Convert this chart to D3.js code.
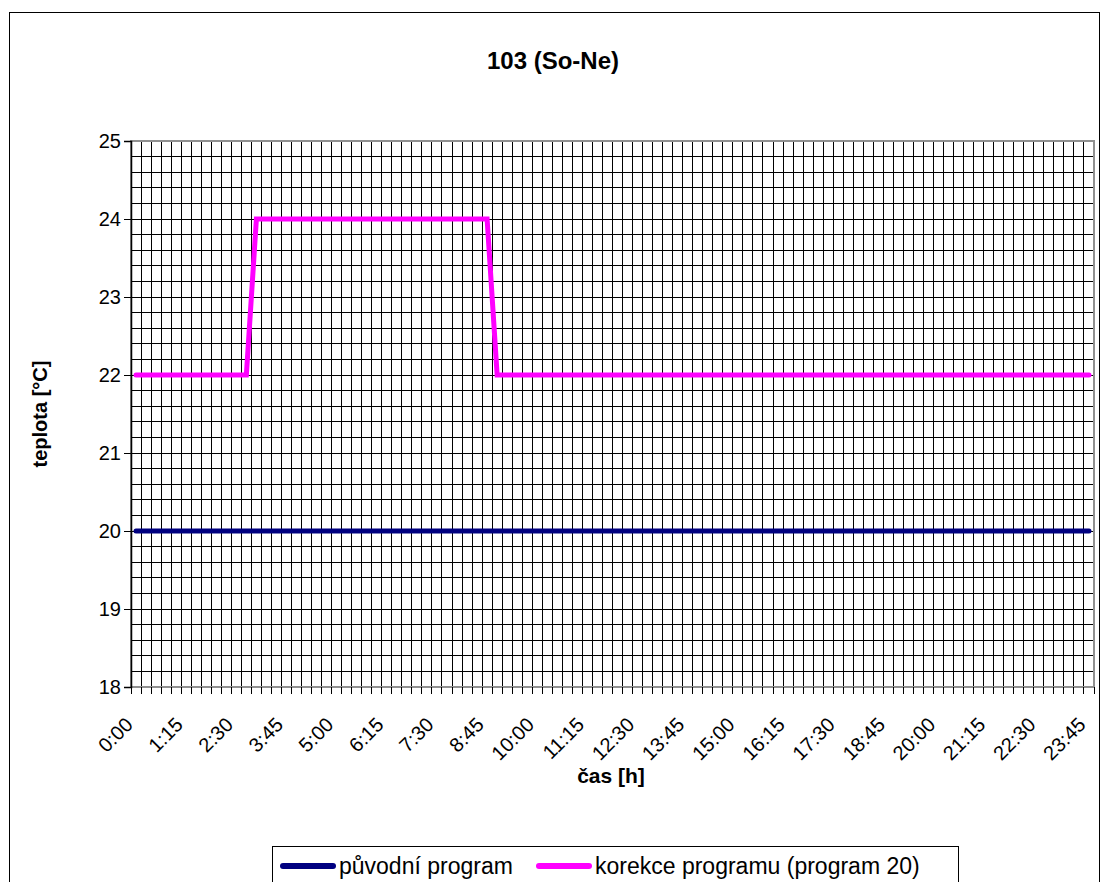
<!DOCTYPE html>
<html>
<head>
<meta charset="utf-8">
<script src="https://cdn.jsdelivr.net/npm/d3@7"></script>
<style>
  body { margin: 0; background: #fff; }
  svg { display: block; font-family: Arial, "Liberation Sans", sans-serif; }
</style>
</head>
<body>
<svg id="chart" width="1104" height="882"></svg>
<script>
// data
const times = [
  "0:00","0:15","0:30","0:45","1:00","1:15","1:30","1:45",
  "2:00","2:15","2:30","2:45","3:00","3:15","3:30","3:45",
  "4:00","4:15","4:30","4:45","5:00","5:15","5:30","5:45",
  "6:00","6:15","6:30","6:45","7:00","7:15","7:30","7:45",
  "8:00","8:15","8:30","8:45","9:00","9:15","9:30","9:45",
  "10:00","10:15","10:30","10:45","11:00","11:15","11:30","11:45",
  "12:00","12:15","12:30","12:45","13:00","13:15","13:30","13:45",
  "14:00","14:15","14:30","14:45","15:00","15:15","15:30","15:45",
  "16:00","16:15","16:30","16:45","17:00","17:15","17:30","17:45",
  "18:00","18:15","18:30","18:45","19:00","19:15","19:30","19:45",
  "20:00","20:15","20:30","20:45","21:00","21:15","21:30","21:45",
  "22:00","22:15","22:30","22:45","23:00","23:15","23:30","23:45"
]
const puvodni = [
  20,20,20,20,20,20,20,20,20,20,20,20,
  20,20,20,20,20,20,20,20,20,20,20,20,
  20,20,20,20,20,20,20,20,20,20,20,20,
  20,20,20,20,20,20,20,20,20,20,20,20,
  20,20,20,20,20,20,20,20,20,20,20,20,
  20,20,20,20,20,20,20,20,20,20,20,20,
  20,20,20,20,20,20,20,20,20,20,20,20,
  20,20,20,20,20,20,20,20,20,20,20,20
]
const korekce = [
  22,22,22,22,22,22,22,22,22,22,22,22,
  24,24,24,24,24,24,24,24,24,24,24,24,
  24,24,24,24,24,24,24,24,24,24,24,24,
  22,22,22,22,22,22,22,22,22,22,22,22,
  22,22,22,22,22,22,22,22,22,22,22,22,
  22,22,22,22,22,22,22,22,22,22,22,22,
  22,22,22,22,22,22,22,22,22,22,22,22,
  22,22,22,22,22,22,22,22,22,22,22,22
]
const yTicks = [18, 19, 20, 21, 22, 23, 24, 25]
const yGrid = d3.range(18, 25.001, 0.2)   // minor gridlines, 5 per degree
const labelEvery = 5

const series = [
  { name: 'původní program', values: puvodni, color: '#000080' },
  { name: 'korekce programu (program 20)', values: korekce, color: '#ff00ff' }
]

const plot = { left: 131, right: 1094, top: 141, bottom: 687 }

const svg = d3.select('#chart')

// outer chart frame
svg.append('rect')
  .attr('x', 9.5).attr('y', 12.5).attr('width', 1090).attr('height', 900)
  .attr('fill', '#fff').attr('stroke', '#000').attr('stroke-width', 1)

const x = d3.scaleBand().domain(times).range([plot.left, plot.right]).padding(0)
const y = d3.scaleLinear().domain([18, 25]).range([plot.bottom, plot.top])

// gridlines
const grid = svg.append('g').attr('shape-rendering', 'crispEdges').attr('stroke', '#000').attr('stroke-width', 1)
const bounds = times.map(t => x(t)).concat([plot.right])
grid.selectAll('line.v').data(bounds).enter().append('line')
  .attr('x1', d => d).attr('x2', d => d)
  .attr('y1', plot.top).attr('y2', plot.bottom)
grid.selectAll('line.h').data(yGrid).enter().append('line')
  .attr('x1', plot.left).attr('x2', plot.right)
  .attr('y1', d => y(d)).attr('y2', d => y(d))

// plot frame
svg.append('rect')
  .attr('x', plot.left).attr('y', plot.top)
  .attr('width', plot.right - plot.left).attr('height', plot.bottom - plot.top)
  .attr('fill', 'none').attr('stroke', '#909090').attr('stroke-width', 2)

// y axis
const yAxis = svg.append('g').attr('transform', `translate(${plot.left},0)`)
  .call(d3.axisLeft(y).tickValues(yTicks).tickSize(7).tickPadding(3).tickFormat(d3.format('d')))
yAxis.select('.domain').attr('stroke', '#000').attr('stroke-width', 1.5)
yAxis.selectAll('.tick line').attr('stroke', '#000').attr('shape-rendering', 'crispEdges')
yAxis.selectAll('.tick text').attr('font-size', 20).attr('fill', '#000')
  .attr('font-family', 'Arial, "Liberation Sans", sans-serif')

// x axis: tick marks between categories
const xAxis = svg.append('g')
xAxis.selectAll('line').data(bounds).enter().append('line')
  .attr('x1', d => d).attr('x2', d => d)
  .attr('y1', plot.bottom).attr('y2', plot.bottom + 7)
  .attr('stroke', '#000').attr('shape-rendering', 'crispEdges')
xAxis.selectAll('text').data(times.filter((t, i) => i % labelEvery === 0)).enter().append('text')
  .attr('transform', d => `translate(${x(d) + x.bandwidth() / 2 - 2},${plot.bottom + 39}) rotate(-45)`)
  .attr('text-anchor', 'end')
  .attr('font-size', 20)
  .text(d => d)

// series
const line = d3.line()
  .x((d, i) => x(times[i]) + x.bandwidth() / 2)
  .y(d => y(d))
svg.selectAll('path.series').data(series).enter().append('path')
  .attr('class', 'series')
  .attr('d', d => line(d.values))
  .attr('fill', 'none')
  .attr('stroke', d => d.color)
  .attr('stroke-width', 5)
  .attr('stroke-linecap', 'round')
  .attr('stroke-linejoin', 'miter')

// titles
svg.append('text').attr('x', 553).attr('y', 69).attr('text-anchor', 'middle')
  .attr('font-size', 24).attr('font-weight', 'bold').text('103 (So-Ne)')
svg.append('text').attr('transform', 'translate(47,414) rotate(-90)').attr('text-anchor', 'middle')
  .attr('font-size', 20).attr('font-weight', 'bold').text('teplota [°C]')
svg.append('text').attr('x', 611).attr('y', 783).attr('text-anchor', 'middle')
  .attr('font-size', 21).attr('font-weight', 'bold').text('čas [h]')

// legend
const legend = svg.append('g')
legend.append('rect').attr('x', 272.5).attr('y', 846.5).attr('width', 686).attr('height', 60)
  .attr('fill', '#fff').attr('stroke', '#000').attr('stroke-width', 1)
const legendX = [283, 539]
const items = legend.selectAll('g.item').data(series).enter().append('g')
  .attr('transform', (d, i) => `translate(${legendX[i]},866)`)
items.append('line').attr('x1', 0).attr('x2', 50).attr('y1', 0).attr('y2', 0)
  .attr('stroke', d => d.color).attr('stroke-width', 6).attr('stroke-linecap', 'round')
items.append('text').attr('x', 56).attr('y', 8).attr('font-size', 23).text(d => d.name)
</script>
</body>
</html>
